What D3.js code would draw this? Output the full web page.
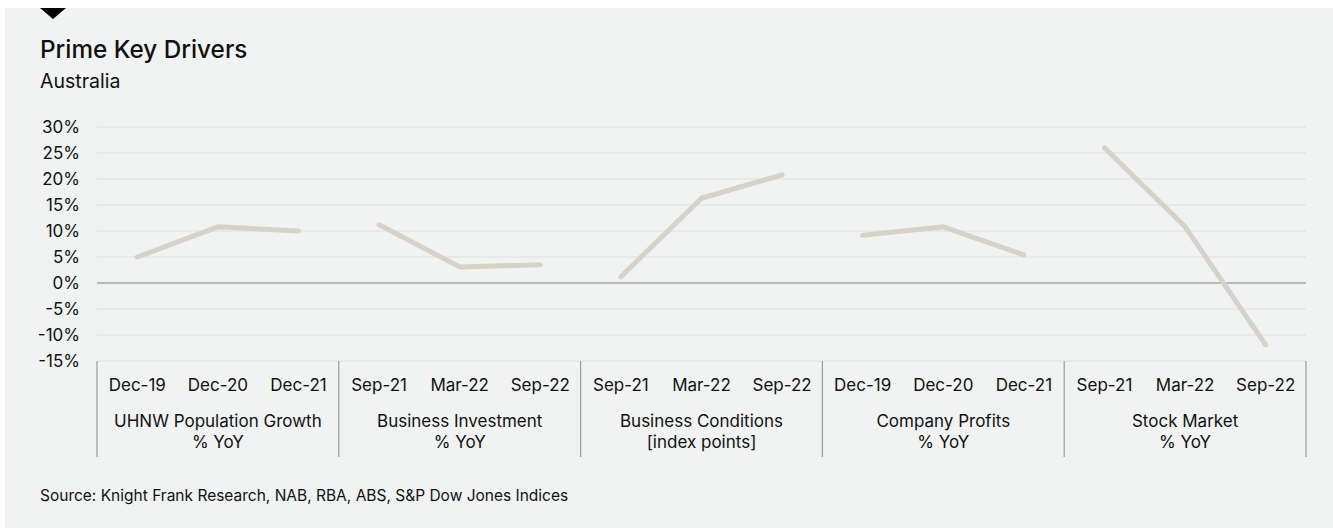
<!DOCTYPE html>
<html><head><meta charset="utf-8">
<script src="https://cdn.jsdelivr.net/npm/d3@7"></script>
<style>
body{margin:0;background:#fff;}
svg{display:block;font-family:Inter, "Liberation Sans", sans-serif;}
</style></head><body>
<svg id="c" width="1333" height="528"></svg>
<script>
const groups = ["UHNW Population Growth|% YoY","Business Investment|% YoY","Business Conditions|[index points]","Company Profits|% YoY","Stock Market|% YoY"];
const periods = [["Dec-19","Dec-20","Dec-21"],["Sep-21","Mar-22","Sep-22"],["Sep-21","Mar-22","Sep-22"],["Dec-19","Dec-20","Dec-21"],["Sep-21","Mar-22","Sep-22"]];
const uhnw = [5.0,10.8,10.0];
const businessInvestment = [11.2,3.1,3.5];
const businessConditions = [1.2,16.3,20.8];
const companyProfits = [9.2,10.8,5.4];
const stockMarket = [26.0,10.8,-11.9];
const series = [uhnw,businessInvestment,businessConditions,companyProfits,stockMarket];
const yTicks = [-15,-10,-5,0,5,10,15,20,25,30];

const svg = d3.select("#c");
svg.append("rect").attr("x",5).attr("y",8).attr("width",1328).attr("height",520).attr("fill","#f0f3f2");
svg.append("path").attr("d","M40,8 L66,8 L53,19 Z").attr("fill","#000");
svg.append("text").attr("x",40).attr("y",58).attr("font-size",24.3).attr("font-weight",500).attr("fill","#111").text("Prime Key Drivers");
svg.append("text").attr("x",40).attr("y",88).attr("font-size",19.5).attr("fill","#111").text("Australia");
svg.append("text").attr("x",40).attr("y",501).attr("font-size",15.5).attr("fill","#111").text("Source: Knight Frank Research, NAB, RBA, ABS, S&P Dow Jones Indices");

const x0 = 97, x1 = 1306;
const y = d3.scaleLinear().domain([-15,30]).range([361,127]);
const gx = d3.scaleBand().domain(d3.range(groups.length)).range([x0,x1]).padding(0);
const px = d3.scaleBand().domain(d3.range(3)).range([0,gx.bandwidth()]).padding(0);

// gridlines
svg.append("g").selectAll("line").data(yTicks.filter(d=>d!==0 && d!==-15)).join("line")
  .attr("x1",x0).attr("x2",x1).attr("y1",d=>y(d)).attr("y2",d=>y(d))
  .attr("stroke","#dcdfde").attr("stroke-width",1.2);
// y labels
svg.append("g").selectAll("text").data(yTicks).join("text")
  .attr("x",80).attr("y",d=>y(d)+6).attr("text-anchor","end").attr("font-size",17).attr("fill","#111")
  .text(d=>d+"%");
// category axis area
svg.append("line").attr("x1",x0).attr("x2",x1).attr("y1",y(-15)).attr("y2",y(-15)).attr("stroke","#dcdfde").attr("stroke-width",1.2);
svg.append("g").selectAll("line").data(d3.range(groups.length+1)).join("line")
  .attr("x1",d=>d<groups.length?gx(d):x1).attr("x2",d=>d<groups.length?gx(d):x1)
  .attr("y1",y(-15)).attr("y2",457).attr("stroke","#9a9e9e").attr("stroke-width",1.2);
// zero line
svg.append("line").attr("x1",x0).attr("x2",x1).attr("y1",y(0)).attr("y2",y(0)).attr("stroke","#a3a6a6").attr("stroke-width",1.6);

groups.forEach((g,i)=>{
  const gg = svg.append("g").attr("transform",`translate(${gx(i)},0)`);
  gg.selectAll("text.p").data(periods[i]).join("text").attr("class","p")
    .attr("x",(d,j)=>px(j)+px.bandwidth()/2).attr("y",391).attr("text-anchor","middle")
    .attr("font-size",17).attr("fill","#111").text(d=>d);
  const lines = g.split("|");
  gg.selectAll("text.g").data(lines).join("text").attr("class","g")
    .attr("x",gx.bandwidth()/2).attr("y",(d,k)=>427+k*21).attr("text-anchor","middle")
    .attr("font-size",17).attr("fill","#111").text(d=>d);
  const line = d3.line().x((d,j)=>px(j)+px.bandwidth()/2).y(d=>y(d));
  gg.append("path").datum(series[i]).attr("d",line).attr("fill","none")
    .attr("stroke","#d8d1c5").attr("stroke-width",5).attr("stroke-linecap","round").attr("stroke-linejoin","round");
});
</script>
</body></html>
